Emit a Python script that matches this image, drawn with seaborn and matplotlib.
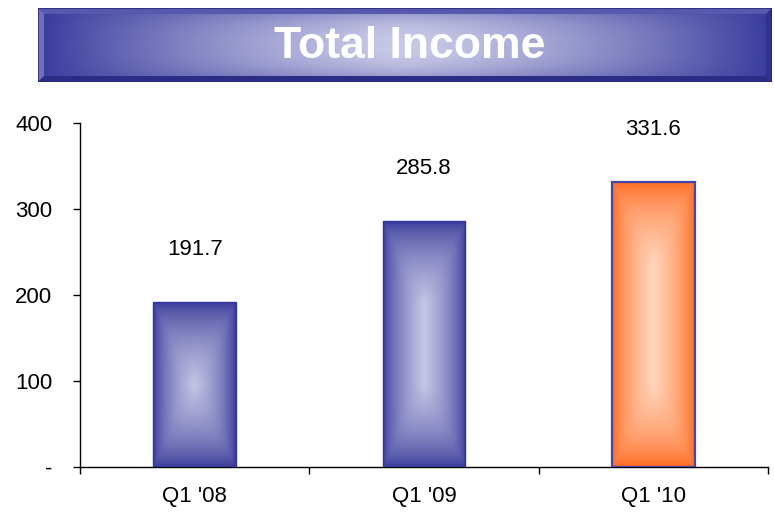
import numpy as np
import pandas as pd
import matplotlib

matplotlib.use("Agg")
import matplotlib.pyplot as plt
import seaborn as sns
from matplotlib.colors import to_rgb
from matplotlib.patches import Polygon, Rectangle

# data
quarters = ["Q1 '08", "Q1 '09", "Q1 '10"]
income = [191.7, 285.8, 331.6]
value_labels = ["191.7", "285.8", "331.6"]
y_ticks = [0, 100, 200, 300, 400]
y_ticklabels = ["-", "100", "200", "300", "400"]
title = "Total Income"

colors = {
    "blue_dark": "#333497",
    "blue_light": "#C6C7E4",
    "orange_dark": "#FF6419",
    "orange_light": "#FFD7BD",
    "edge_blue": "#4446A8",
}

sns.set_theme(style="white")
plt.rcParams["font.family"] = ["Liberation Sans", "DejaVu Sans"]

W, H = 774, 514
fig = plt.figure(figsize=(W / 100, H / 100), dpi=100)
ax = fig.add_axes([80 / W, 1 - 467 / H, (768 - 80) / W, (467 - 123) / H])

df = pd.DataFrame({"quarter": quarters, "income": income})
sns.barplot(
    data=df,
    x="quarter",
    y="income",
    color=colors["blue_dark"],
    width=0.36,
    saturation=1,
    ax=ax,
)
ax.set_xlim(-0.5, len(quarters) - 0.5)
ax.set_ylim(0, 400)
ax.set_xlabel("")
ax.set_ylabel("")

for s in ["top", "right"]:
    ax.spines[s].set_visible(False)
for s in ["left", "bottom"]:
    ax.spines[s].set_color("black")
    ax.spines[s].set_linewidth(1.0)

ax.set_yticks(y_ticks)
ax.set_yticklabels(y_ticklabels)
ax.tick_params(axis="y", direction="out", length=5, width=1, color="black",
               pad=15, labelsize=16, left=True, labelcolor="black")
ax.set_xticks(range(len(quarters)))
ax.set_xticks(np.arange(-0.5, len(quarters), 1.0), minor=True)
ax.tick_params(axis="x", which="major", length=0, pad=14, labelsize=16,
               labelcolor="black")
ax.tick_params(axis="x", which="minor", direction="out", length=5, width=1,
               color="black", bottom=True)


def box_gradient(patch, dark, light, vscale=2.0, n=300):
    # soft distance-to-edge gradient, dark rim and light centre
    bb = patch.get_window_extent(renderer=fig.canvas.get_renderer())
    wpx, hpx = bb.width, bb.height
    xs = np.linspace(0, wpx, n)
    ys = np.linspace(0, hpx, int(n * hpx / wpx) + 2)
    X, Y = np.meshgrid(xs, ys)
    half = wpx / 2
    dx = np.clip(np.minimum(X, wpx - X) / half, 1e-4, 1)
    dy = np.clip(np.minimum(Y, hpx - Y) / (half * vscale), 1e-4, 1)
    p = 5.0
    t = (dx ** -p + dy ** -p - 1) ** (-1 / p)
    t = np.clip(t, 0, 1) ** 0.65
    d, l = np.array(to_rgb(dark)), np.array(to_rgb(light))
    return d + (l - d) * t[..., None]


fig.canvas.draw()
bars = list(ax.patches)
for i, patch in enumerate(bars):
    if i == len(bars) - 1:
        dark, light, edge = colors["orange_dark"], colors["orange_light"], colors["edge_blue"]
        lw = 1.6
    else:
        dark, light, edge = colors["blue_dark"], colors["blue_light"], colors["blue_dark"]
        lw = 1.0
    x0, y0 = patch.get_x(), patch.get_y()
    w, h = patch.get_width(), patch.get_height()
    img = box_gradient(patch, dark, light)
    ax.imshow(img, extent=[x0, x0 + w, y0, y0 + h], aspect="auto",
              origin="lower", zorder=3, interpolation="bilinear")
    ax.add_patch(Rectangle((x0, y0), w, h, fill=False, edgecolor=edge,
                           linewidth=lw, zorder=4))
    ax.annotate(value_labels[i], (x0 + w / 2, y0 + h), xytext=(0, 38),
                textcoords="offset points", ha="center", va="center",
                fontsize=16, color="black")
ax.set_xlim(-0.5, len(quarters) - 0.5)
ax.set_ylim(0, 400)

# title banner
bx0, bx1, by0, by1 = 38, 772, 8, 82
bax = fig.add_axes([bx0 / W, 1 - by1 / H, (bx1 - bx0) / W, (by1 - by0) / H])
bax.set_axis_off()
bax.set_xlim(0, bx1 - bx0)
bax.set_ylim(0, by1 - by0)
bw, bh = bx1 - bx0, by1 - by0

u = np.linspace(-1, 1, 600)
v = np.linspace(-1, 1, 80)
U, V = np.meshgrid(u, v)
tb = 1 - (1 - np.abs(U) ** 1.4) * (1 - 0.45 * np.abs(V) ** 2.5)
d = np.array(to_rgb("#393B9D"))
l = np.array(to_rgb("#C8C9E6"))
bimg = l + (d - l) * np.clip(tb, 0, 1)[..., None]
bax.imshow(bimg, extent=[0, bw, 0, bh], aspect="auto", origin="lower",
           interpolation="bilinear")

bv = 6
bax.add_patch(Polygon([(0, bh), (bw, bh), (bw - bv, bh - bv), (bv, bh - bv)],
                      closed=True, facecolor="#5759AE", edgecolor="none"))
bax.add_patch(Polygon([(0, 0), (0, bh), (bv, bh - bv), (bv, bv)],
                      closed=True, facecolor="#6E70BC", edgecolor="none"))
bax.add_patch(Polygon([(0, 0), (bw, 0), (bw - bv, bv), (bv, bv)],
                      closed=True, facecolor="#2B2C85", edgecolor="none"))
bax.add_patch(Polygon([(bw, 0), (bw, bh), (bw - bv, bh - bv), (bw - bv, bv)],
                      closed=True, facecolor="#2F3190", edgecolor="none"))
bax.add_patch(Rectangle((0, 0), bw, bh, fill=False, edgecolor="#2A2B7E",
                        linewidth=1.2))
bax.text(410 - bx0, bh / 2 - 1, title, ha="center", va="center", color="white",
         fontsize=32, fontweight="bold")

fig.savefig("out.png", dpi=100)
